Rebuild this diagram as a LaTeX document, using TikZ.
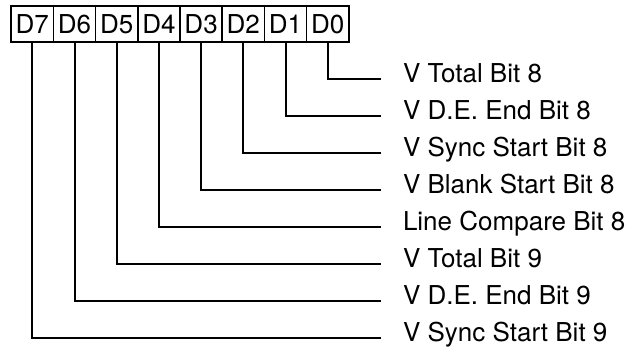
\documentclass[tikz,border=0pt]{standalone}
\usepackage{fontspec}
\setmainfont{TeX Gyre Heros}
\usetikzlibrary{positioning}
\tikzset{
    on grid,
    node distance=42.2pt,
    bit/.style = {
        draw,
        shape=rectangle,
        minimum height=36pt,
        minimum width=42.2pt,
        inner sep=0pt,
        line width=1.6pt,
        font=\fontsize{26}{30}\selectfont
    },
    sig/.style = {
        anchor=west,
        inner xsep=22pt,
        inner ysep=0pt,
        text height=0.72em,
        text depth=0pt,
        outer sep=0pt,
        font=\fontsize{26}{30}\selectfont
    },
    wire/.style = {
        draw,
        line width=2pt
    }
}
\begin{document}
\begin{tikzpicture}[x=1pt,y=-1pt]
            \useasboundingbox (0,0) rectangle (641,356);

            \node[bit] (d7) at (32.3,24) {D7};
            \node[bit, right=of d7] (d6) {D6};
            \node[bit, right=of d6] (d5) {D5};
            \node[bit, right=of d5] (d4) {D4};
            \node[bit, right=of d4] (d3) {D3};
            \node[bit, right=of d3] (d2) {D2};
            \node[bit, right=of d2] (d1) {D1};
            \node[bit, right=of d1] (d0) {D0};

            \node[sig] (vtotal8) at (381,79.3) {V Total Bit 8};
            \node[sig] (vdeend8) at (381,116.2) {V D.E. End Bit 8};
            \node[sig] (vsync8) at (381,153.1) {V Sync Start Bit 8};
            \node[sig] (vblank8) at (381,190) {V Blank Start Bit 8};
            \node[sig] (linecmp8) at (381,226.9) {Line Compare Bit 8};
            \node[sig] (vtotal9) at (381,263.8) {V Total Bit 9};
            \node[sig] (vdeend9) at (381,300.7) {V D.E. End Bit 9};
            \node[sig] (vsync9) at (381,337.6) {V Sync Start Bit 9};

            \path[wire] (d0.south) |- (vtotal8.west);
            \path[wire] (d1.south) |- (vdeend8.west);
            \path[wire] (d2.south) |- (vsync8.west);
            \path[wire] (d3.south) |- (vblank8.west);
            \path[wire] (d4.south) |- (linecmp8.west);
            \path[wire] (d5.south) |- (vtotal9.west);
            \path[wire] (d6.south) |- (vdeend9.west);
            \path[wire] (d7.south) |- (vsync9.west);

        \end{tikzpicture}
\end{document}
